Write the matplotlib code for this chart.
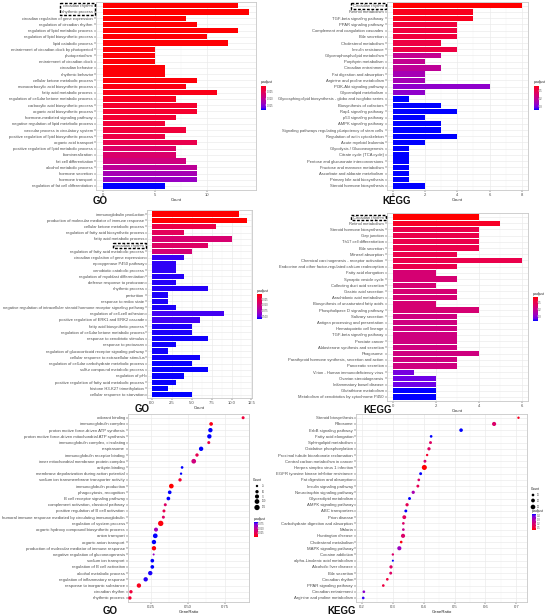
import matplotlib
matplotlib.use("Agg")
import matplotlib.pyplot as plt
import numpy as np
from matplotlib.colors import LinearSegmentedColormap, Normalize
from matplotlib.patches import Rectangle

W, H = 546, 615
plt.rcParams["font.family"] = ["Liberation Sans", "DejaVu Sans"]

# ---- GO enrichment (bar, top) ----
go1_terms = [
    "circadian rhythm", "rhythmic process", "circadian regulation of gene expression",
    "regulation of circadian rhythm", "regulation of lipid metabolic process",
    "regulation of lipid biosynthetic process", "lipid catabolic process",
    "entrainment of circadian clock by photoperiod", "photoperiodism",
    "entrainment of circadian clock", "circadian behavior", "rhythmic behavior",
    "cellular ketone metabolic process", "monocarboxylic acid biosynthetic process",
    "fatty acid metabolic process", "regulation of cellular ketone metabolic process",
    "carboxylic acid biosynthetic process", "organic acid biosynthetic process",
    "hormone-mediated signaling pathway", "negative regulation of lipid metabolic process",
    "vascular process in circulatory system", "positive regulation of lipid biosynthetic process",
    "organic acid transport", "positive regulation of lipid metabolic process",
    "biomineralization", "fat cell differentiation", "alcohol metabolic process",
    "hormone secretion", "hormone transport", "regulation of fat cell differentiation",
]
go1_count = [13, 14, 8, 9, 13, 10, 12, 5, 5, 5, 6, 6, 9, 8, 11, 7, 9, 9, 7, 6, 8, 6, 9, 7, 7, 8, 9, 9, 9, 6]
go1_padj = [0.0002, 0.0002, 0.0003, 0.0003, 0.0003, 0.0004, 0.0004, 0.0005, 0.0005, 0.0005,
            0.0005, 0.0005, 0.0006, 0.0009, 0.0012, 0.0015, 0.0020, 0.0020, 0.0024, 0.0028,
            0.0030, 0.0038, 0.0045, 0.0065, 0.0070, 0.0085, 0.0105, 0.0128, 0.0140, 0.0185]

# ---- KEGG enrichment (bar, top) ----
kegg1_terms = [
    "Circadian rhythm", "Retinol metabolism", "TGF-beta signaling pathway",
    "PPAR signaling pathway", "Complement and coagulation cascades", "Bile secretion",
    "Cholesterol metabolism", "Insulin resistance", "Glycerophospholipid metabolism",
    "Porphyrin metabolism", "Circadian entrainment", "Fat digestion and absorption",
    "Arginine and proline metabolism", "PI3K-Akt signaling pathway", "Glycerolipid metabolism",
    "Glycosphingolipid biosynthesis - globo and isoglobo series", "Biosynthesis of cofactors",
    "Rap1 signaling pathway", "p53 signaling pathway", "AMPK signaling pathway",
    "Signaling pathways regulating pluripotency of stem cells", "Regulation of actin cytoskeleton",
    "Acute myeloid leukemia", "Glycolysis / Gluconeogenesis", "Citrate cycle (TCA cycle)",
    "Pentose and glucuronate interconversions", "Fructose and mannose metabolism",
    "Ascorbate and aldarate metabolism", "Primary bile acid biosynthesis",
    "Steroid hormone biosynthesis",
]
kegg1_count = [8, 5, 5, 4, 4, 4, 3, 4, 3, 2, 3, 2, 2, 6, 2, 1, 3, 4, 2, 3, 3, 4, 2, 1, 1, 1, 1, 1, 1, 2]
kegg1_padj = [0.03, 0.05, 0.05, 0.08, 0.08, 0.08, 0.09, 0.09, 0.20, 0.20,
              0.21, 0.25, 0.25, 0.28, 0.28, 0.35, 0.35, 0.35, 0.35, 0.35,
              0.35, 0.35, 0.35, 0.35, 0.35, 0.35, 0.35, 0.35, 0.35, 0.35]

# ---- GO enrichment (bar, middle) ----
go2_terms = [
    "immunoglobulin production", "production of molecular mediator of immune response",
    "cellular ketone metabolic process", "regulation of fatty acid biosynthetic process",
    "fatty acid metabolic process", "circadian rhythm",
    "regulation of fatty acid metabolic process", "circadian regulation of gene expression",
    "epoxygenase P450 pathway", "xenobiotic catabolic process",
    "regulation of myoblast differentiation", "defense response to protozoan",
    "rhythmic process", "parturition", "response to redox state",
    "negative regulation of intracellular steroid hormone receptor signaling pathway",
    "regulation of cell-cell adhesion", "positive regulation of ERK1 and ERK2 cascade",
    "fatty acid biosynthetic process", "regulation of cellular ketone metabolic process",
    "response to xenobiotic stimulus", "response to protozoan",
    "regulation of glucocorticoid receptor signaling pathway",
    "cellular response to extracellular stimulus",
    "regulation of cellular carbohydrate metabolic process",
    "sulfur compound metabolic process", "regulation of pH",
    "positive regulation of fatty acid metabolic process", "histone H3-K27 trimethylation",
    "cellular response to starvation",
]
go2_count = [11, 12, 8, 4, 10, 7, 5, 4, 3, 3, 4, 3, 7, 2, 2, 3, 9, 6, 5, 5, 7, 3, 2, 6, 5, 7, 4, 3, 2, 5]
go2_padj = [0.003, 0.003, 0.025, 0.035, 0.045, 0.040, 0.048, 0.105, 0.106, 0.106,
            0.107, 0.107, 0.107, 0.108, 0.108, 0.108, 0.104, 0.104, 0.108, 0.108,
            0.109, 0.109, 0.109, 0.109, 0.110, 0.110, 0.110, 0.110, 0.111, 0.111]

# ---- KEGG enrichment (bar, middle) ----
kegg2_terms = [
    "Circadian rhythm", "Retinol metabolism", "Steroid hormone biosynthesis", "Gap junction",
    "Th17 cell differentiation", "Bile secretion", "Mineral absorption",
    "Chemical carcinogenesis - receptor activation",
    "Endocrine and other factor-regulated calcium reabsorption", "Fatty acid elongation",
    "Synaptic vesicle cycle", "Collecting duct acid secretion", "Gastric acid secretion",
    "Arachidonic acid metabolism", "Biosynthesis of unsaturated fatty acids",
    "Phospholipase D signaling pathway", "Salivary secretion",
    "Antigen processing and presentation", "Hematopoietic cell lineage",
    "TGF-beta signaling pathway", "Prostate cancer", "Aldosterone synthesis and secretion",
    "Phagosome", "Parathyroid hormone synthesis, secretion and action", "Pancreatic secretion",
    "Virion - Human immunodeficiency virus", "Ovarian steroidogenesis",
    "Inflammatory bowel disease", "Glutathione metabolism",
    "Metabolism of xenobiotics by cytochrome P450",
]
kegg2_count = [4, 5, 4, 4, 4, 4, 3, 6, 3, 2, 3, 2, 3, 3, 2, 4, 3, 3, 3, 3, 3, 3, 4, 3, 3, 1, 2, 2, 2, 2]
kegg2_padj = [0.02, 0.05, 0.10, 0.10, 0.10, 0.10, 0.10, 0.10, 0.10, 0.16,
              0.16, 0.16, 0.16, 0.16, 0.16, 0.16, 0.18, 0.18, 0.18, 0.18,
              0.18, 0.18, 0.18, 0.18, 0.18, 0.32, 0.33, 0.33, 0.37, 0.37]

# ---- GO enrichment (dot, bottom) ----
go3_terms = [
    "odorant binding", "immunoglobulin complex", "proton motive force-driven ATP synthesis",
    "proton motive force-driven mitochondrial ATP synthesis",
    "immunoglobulin complex, circulating", "respirasome", "immunoglobulin receptor binding",
    "inner mitochondrial membrane protein complex", "ankyrin binding",
    "membrane depolarization during action potential",
    "sodium ion transmembrane transporter activity", "immunoglobulin production",
    "phagocytosis, recognition", "B cell receptor signaling pathway",
    "complement activation, classical pathway", "positive regulation of B cell activation",
    "humoral immune response mediated by circulating immunoglobulin",
    "regulation of system process", "organic hydroxy compound biosynthetic process",
    "anion transport", "organic anion transport",
    "production of molecular mediator of immune response",
    "negative regulation of gluconeogenesis", "sodium ion transport",
    "regulation of B cell activation", "alcohol metabolic process",
    "regulation of inflammatory response", "response to inorganic substance",
    "circadian rhythm", "rhythmic process",
]
go3_ratio = [0.875, 0.658, 0.653, 0.646, 0.642, 0.590, 0.562, 0.540, 0.461, 0.454,
             0.447, 0.388, 0.377, 0.368, 0.347, 0.338, 0.334, 0.316, 0.284, 0.279,
             0.270, 0.270, 0.268, 0.259, 0.259, 0.245, 0.214, 0.168, 0.114, 0.107]
go3_count = [40, 60, 85, 85, 40, 85, 50, 98, 32, 25, 50, 98, 60, 60, 40, 40, 40, 128, 72, 98,
             85, 85, 18, 60, 60, 85, 85, 85, 50, 50]
go3_padj = [0.014, 0.005, 0.085, 0.085, 0.016, 0.085, 0.022, 0.039, 0.085, 0.085,
            0.011, 0.001, 0.085, 0.085, 0.030, 0.022, 0.029, 0.003, 0.061, 0.085,
            0.085, 0.002, 0.064, 0.085, 0.085, 0.083, 0.082, 0.006, 0.014, 0.011]

# ---- KEGG enrichment (dot, bottom) ----
kegg3_terms = [
    "Steroid biosynthesis", "Ribosome", "ErbB signaling pathway", "Fatty acid elongation",
    "Sphingolipid metabolism", "Oxidative phosphorylation",
    "Proximal tubule bicarbonate reclamation", "Central carbon metabolism in cancer",
    "Herpes simplex virus 1 infection", "EGFR tyrosine kinase inhibitor resistance",
    "Fat digestion and absorption", "Insulin signaling pathway",
    "Neurotrophin signaling pathway", "Glycerolipid metabolism", "AMPK signaling pathway",
    "ABC transporters", "Prion disease", "Carbohydrate digestion and absorption", "Malaria",
    "Huntington disease", "Cholesterol metabolism", "MAPK signaling pathway",
    "Cocaine addiction", "alpha-Linolenic acid metabolism", "Alcoholic liver disease",
    "Bile secretion", "Circadian rhythm", "PPAR signaling pathway", "Circadian entrainment",
    "Arginine and proline metabolism",
]
kegg3_ratio = [0.707, 0.628, 0.521, 0.424, 0.422, 0.417, 0.411, 0.404, 0.402, 0.390,
               0.384, 0.381, 0.366, 0.354, 0.346, 0.342, 0.337, 0.334, 0.334, 0.333,
               0.327, 0.321, 0.300, 0.300, 0.294, 0.293, 0.282, 0.269, 0.206, 0.204]
kegg3_count = [8, 24, 18, 10, 12, 15, 8, 12, 36, 12, 10, 12, 15, 12, 15, 12, 21, 10, 10, 24,
               10, 24, 8, 6, 15, 12, 10, 10, 10, 10]
kegg3_padj = [0.06, 0.18, 0.45, 0.45, 0.17, 0.17, 0.07, 0.19, 0.03, 0.45,
              0.18, 0.14, 0.31, 0.45, 0.14, 0.45, 0.16, 0.18, 0.25, 0.18,
              0.04, 0.34, 0.18, 0.45, 0.17, 0.17, 0.10, 0.11, 0.36, 0.43]

CMAP = LinearSegmentedColormap.from_list(
    "padj", [(0, "#FF0000"), (0.1, "#F5002F"), (0.25, "#E80050"), (0.5, "#C90088"),
             (0.75, "#9A00C2"), (0.9, "#6A00EA"), (1, "#0000FF")])
GRID = "#EBEBEB"
TXT = "#4D4D4D"

fig = plt.figure(figsize=(W / 100, H / 100), dpi=100)
fig.patch.set_facecolor("white")


def px_axes(x0, y0, x1, y1):
    return fig.add_axes([x0 / W, 1 - y1 / H, (x1 - x0) / W, (y1 - y0) / H])


def style_panel(ax, terms, xlim, xticks, xticklabels, xlabel, fs):
    n = len(terms)
    pos = n - np.arange(n)
    ax.set_ylim(0.4, n + 0.6)
    ax.set_xlim(*xlim)
    ax.set_yticks(pos, labels=terms)
    ax.set_xticks(xticks, labels=xticklabels)
    mids = [(a + b) / 2 for a, b in zip(xticks[:-1], xticks[1:])]
    ax.set_xticks(mids, minor=True)
    ax.grid(True, which="major", color=GRID, lw=0.5, zorder=0)
    ax.grid(True, which="minor", axis="x", color="#F4F4F4", lw=0.3, zorder=0)
    ax.set_axisbelow(True)
    ax.tick_params(axis="both", which="major", labelsize=fs, colors="#333333",
                   labelcolor=TXT, length=1.3, width=0.35, pad=0.8)
    ax.tick_params(axis="x", which="minor", length=0)
    for s in ax.spines.values():
        s.set_color("#C8C8C8")
        s.set_linewidth(0.6)
    ax.set_xlabel(xlabel, fontsize=fs, color="#222222", labelpad=0.8)
    return pos


def bar_panel(box, terms, counts, padj, xlim, xticks, xticklabels):
    ax = px_axes(*box)
    pos = style_panel(ax, terms, xlim, xticks, xticklabels, "Count", 3.0)
    norm = Normalize(min(padj), max(padj))
    ax.barh(pos, counts, height=0.85, color=CMAP(norm(np.array(padj))), zorder=2)
    return ax, norm


def dot_panel(box, terms, ratio, counts, padj, xlim, xticks, xticklabels, k):
    ax = px_axes(*box)
    pos = style_panel(ax, terms, xlim, xticks, xticklabels, "GeneRatio", 3.1)
    norm = Normalize(min(padj), max(padj))
    ax.scatter(ratio, pos, s=np.array(counts) * k, c=CMAP(norm(np.array(padj))),
               edgecolors="none", zorder=3)
    return ax, norm


def colorbar(box, norm, ticks, labels, red_top, title):
    cax = px_axes(*box)
    lo, hi = norm.vmin, norm.vmax
    top, bot = (lo, hi) if red_top else (hi, lo)
    vals = np.linspace(top, bot, 256)[:, None]
    cax.imshow(vals, cmap=CMAP, norm=norm, aspect="auto", origin="upper",
               extent=(0, 1, bot, top))
    cax.set_xticks([])
    cax.yaxis.tick_right()
    cax.set_yticks(ticks, labels=labels)
    cax.tick_params(axis="y", labelsize=1.8, length=1.0, width=0.3, colors="white",
                    labelcolor=TXT, pad=0.6, direction="in")
    for s in cax.spines.values():
        s.set_visible(False)
    cax.set_title(title, fontsize=2.4, color="#222222", loc="left", pad=1.5)
    return cax


# panels
ax1, n1 = bar_panel((95.7, 2.0, 256.0, 189.7), go1_terms, go1_count, go1_padj,
                    (-0.7, 14.7), [0, 5, 10], ["0", "5", "10"])
ax2, n2 = bar_panel((386.6, 2.0, 528.2, 189.7), kegg1_terms, kegg1_count, kegg1_padj,
                    (-0.4, 8.4), [0, 2, 4, 6, 8], ["0", "2", "4", "6", "8"])
ax3, n3 = bar_panel((147.2, 210.3, 252.2, 398.4), go2_terms, go2_count, go2_padj,
                    (-0.6, 12.6), [0, 2.5, 5, 7.5, 10, 12.5],
                    ["0.0", "2.5", "5.0", "7.5", "10.0", "12.5"])
ax4, n4 = bar_panel((386.6, 213.3, 528.1, 400.7), kegg2_terms, kegg2_count, kegg2_padj,
                    (-0.3, 6.3), [0, 2, 4, 6], ["0", "2", "4", "6"])
ax5, n5 = dot_panel((127.7, 414.0, 249.3, 601.7), go3_terms, go3_ratio, go3_count, go3_padj,
                    (0.092, 0.917), [0.25, 0.5, 0.75], ["0.25", "0.50", "0.75"], 0.117)
ax6, n6 = dot_panel((356.0, 414.0, 527.0, 601.7), kegg3_terms, kegg3_ratio, kegg3_count,
                    kegg3_padj, (0.1806, 0.7346), [0.2, 0.3, 0.4, 0.5, 0.6, 0.7],
                    ["0.2", "0.3", "0.4", "0.5", "0.6", "0.7"], 0.37)

colorbar((261, 85.5, 266, 110), n1, [0.005, 0.010, 0.015], ["0.005", "0.010", "0.015"], True, "p.adjust")
colorbar((534, 85.5, 538.5, 110), n2, [0.1, 0.2, 0.3], ["0.1", "0.2", "0.3"], True, "p.adjust")
colorbar((257, 294, 261.5, 319), n3, [0.025, 0.050, 0.075, 0.100], ["0.025", "0.050", "0.075", "0.100"], True, "p.adjust")
colorbar((533, 297, 537.5, 321), n4, [0.1, 0.2, 0.3], ["0.1", "0.2", "0.3"], True, "p.adjust")
colorbar((253.5, 522, 257.5, 537), n5, [0.025, 0.050, 0.075], ["0.025", "0.050", "0.075"], False, "p.adjust")
colorbar((532, 514, 536, 530), n6, [0.1, 0.2, 0.3, 0.4], ["0.1", "0.2", "0.3", "0.4"], False, "p.adjust")

# overlay in pixel coordinates for titles, size legends, highlight boxes
ov = fig.add_axes([0, 0, 1, 1], zorder=10)
ov.set_xlim(0, W)
ov.set_ylim(H, 0)
ov.axis("off")

for x, y, t in [(100, 201, "GO"), (397, 201, "KEGG"), (142, 409, "GO"),
                (378, 410, "KEGG"), (110, 611, "GO"), (342, 611, "KEGG")]:
    ov.text(x, y, t, fontsize=7, fontweight="bold", ha="center", va="center", color="#111111")

go3_leg = [25, 50, 75, 100, 125]
ov.text(252.7, 480, "Count", fontsize=2.4, va="center", color="#222222")
for y, c in zip([486, 491.7, 496.5, 501.5, 507.5], go3_leg):
    ov.scatter(257, y, s=c * 0.117, color="black", edgecolors="none")
    ov.text(262, y, str(c), fontsize=1.8, va="center", color=TXT)

kegg3_leg = [10, 20, 30]
ov.text(531, 489, "Count", fontsize=2.4, va="center", color="#222222")
for y, c in zip([495, 500.5, 507], kegg3_leg):
    ov.scatter(533, y, s=c * 0.37, color="black", edgecolors="none")
    ov.text(537, y, str(c), fontsize=1.8, va="center", color=TXT)

fig.canvas.draw()
renderer = fig.canvas.get_renderer()


def box_labels(ax, names):
    bbs = [lab.get_window_extent(renderer) for lab in ax.get_yticklabels()
           if lab.get_text() in names]
    x0 = min(b.x0 for b in bbs) - 1.5
    x1 = max(b.x1 for b in bbs) + 2.0
    y0 = min(b.y0 for b in bbs) - 0.8
    y1 = max(b.y1 for b in bbs) + 0.8
    ov.add_patch(Rectangle((x0, H - y1), x1 - x0, y1 - y0, fill=False, ec="black",
                           lw=1.0, ls=(0, (2.0, 1.2))))


box_labels(ax1, ["circadian rhythm", "rhythmic process"])
box_labels(ax2, ["Circadian rhythm"])
box_labels(ax3, ["circadian rhythm"])
box_labels(ax4, ["Circadian rhythm"])

fig.savefig("out.png", dpi=100, facecolor="white")
